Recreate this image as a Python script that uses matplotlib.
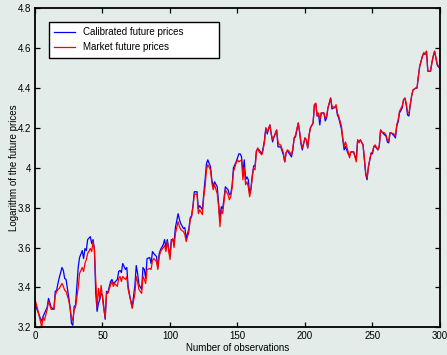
import matplotlib
matplotlib.use("Agg")
import matplotlib.pyplot as plt

plt.rcParams['font.family'] = ['Liberation Sans', 'DejaVu Sans']

obs = [0, 2, 4, 5, 6, 7, 9, 10, 12, 14, 15, 16, 17, 18, 20, 21, 22, 23, 25, 26,
       27, 28, 29, 30, 32, 33, 35, 36, 37, 38, 39, 41, 42, 43, 44, 45, 46, 47, 48, 49,
       50, 51, 52, 53, 54, 56, 57, 58, 59, 61, 62, 63, 64, 65, 67, 68, 69, 70, 72, 74,
       75, 76, 77, 79, 80, 81, 82, 83, 85, 86, 87, 88, 90, 91, 92, 93, 95, 96, 97, 98,
       100, 101, 102, 103, 104, 106, 107, 108, 110, 111, 112, 114, 115, 116, 117, 118, 120, 121, 122, 124,
       125, 126, 127, 128, 130, 131, 132, 133, 135, 136, 137, 138, 139, 140, 141, 143, 144, 145, 146, 147,
       149, 150, 151, 152, 153, 154, 155, 156, 157, 158, 159, 160, 161, 162, 163, 164, 165, 166, 168, 169,
       170, 171, 172, 174, 175, 176, 177, 179, 180, 181, 182, 184, 185, 186, 187, 188, 190, 191, 192, 193,
       195, 196, 197, 198, 200, 201, 202, 203, 204, 206, 207, 208, 209, 210, 211, 212, 214, 215, 216, 217,
       219, 220, 222, 223, 224, 225, 227, 228, 229, 230, 232, 233, 234, 236, 238, 239, 240, 241, 243, 244,
       245, 246, 247, 249, 250, 251, 252, 254, 255, 256, 257, 259, 260, 261, 262, 263, 264, 266, 267, 268,
       269, 270, 272, 273, 274, 275, 276, 277, 278, 279, 280, 282, 283, 284, 285, 287, 288, 289, 290, 291,
       293, 294, 295, 296, 298, 299, 300]

market = [3.34, 3.29, 3.23, 3.20, 3.25, 3.235, 3.29, 3.33, 3.29, 3.29, 3.36, 3.38, 3.39, 3.395, 3.42, 3.405, 3.385, 3.38, 3.335, 3.295,
          3.25, 3.235, 3.29, 3.30, 3.40, 3.47, 3.50, 3.48, 3.52, 3.54, 3.57, 3.595, 3.58, 3.63, 3.59, 3.435, 3.30, 3.395, 3.345, 3.41,
          3.345, 3.29, 3.25, 3.37, 3.37, 3.413, 3.43, 3.405, 3.42, 3.405, 3.445, 3.455, 3.43, 3.455, 3.44, 3.455, 3.39, 3.36, 3.295, 3.37,
          3.455, 3.43, 3.39, 3.37, 3.455, 3.44, 3.42, 3.49, 3.495, 3.49, 3.535, 3.545, 3.53, 3.49, 3.555, 3.58, 3.60, 3.61, 3.58, 3.63,
          3.54, 3.63, 3.645, 3.60, 3.67, 3.73, 3.705, 3.69, 3.68, 3.665, 3.63, 3.68, 3.74, 3.755, 3.80, 3.865, 3.87, 3.77, 3.79, 3.765,
          3.855, 3.905, 3.99, 4.015, 3.99, 3.925, 3.89, 3.915, 3.87, 3.805, 3.705, 3.79, 3.77, 3.83, 3.89, 3.865, 3.84, 3.855, 3.90, 3.98,
          4.024, 4.04, 4.03, 4.035, 4.04, 3.94, 4.00, 3.915, 3.93, 3.905, 3.855, 3.89, 3.957, 4.00, 3.99, 4.08, 4.10, 4.08, 4.065, 4.09,
          4.13, 4.20, 4.18, 4.215, 4.17, 4.14, 4.155, 4.19, 4.13, 4.115, 4.115, 4.075, 4.03, 4.075, 4.09, 4.085, 4.065, 4.10, 4.15, 4.165,
          4.225, 4.18, 4.13, 4.10, 4.15, 4.14, 4.10, 4.165, 4.20, 4.225, 4.317, 4.325, 4.26, 4.275, 4.24, 4.275, 4.275, 4.25, 4.258, 4.30,
          4.35, 4.31, 4.30, 4.317, 4.275, 4.258, 4.21, 4.15, 4.107, 4.13, 4.08, 4.05, 4.08, 4.08, 4.03, 4.14, 4.125, 4.14, 4.115, 4.05,
          3.975, 3.95, 4.006, 4.074, 4.08, 4.107, 4.115, 4.09, 4.107, 4.19, 4.18, 4.175, 4.165, 4.14, 4.133, 4.175, 4.175, 4.17, 4.158, 4.217,
          4.24, 4.284, 4.31, 4.34, 4.35, 4.325, 4.275, 4.275, 4.317, 4.36, 4.39, 4.40, 4.40, 4.46, 4.51, 4.56, 4.577, 4.568, 4.585, 4.485,
          4.485, 4.527, 4.56, 4.585, 4.52, 4.51, 4.505]

calibrated = [3.32, 3.28, 3.245, 3.23, 3.255, 3.27, 3.30, 3.345, 3.30, 3.29, 3.38, 3.385, 3.42, 3.45, 3.50, 3.485, 3.445, 3.44, 3.35, 3.30,
              3.22, 3.21, 3.305, 3.31, 3.50, 3.55, 3.585, 3.545, 3.595, 3.585, 3.64, 3.655, 3.62, 3.64, 3.59, 3.37, 3.28, 3.32, 3.34, 3.37,
              3.36, 3.30, 3.24, 3.38, 3.375, 3.43, 3.44, 3.42, 3.425, 3.44, 3.48, 3.485, 3.475, 3.52, 3.49, 3.50, 3.405, 3.365, 3.30, 3.41,
              3.51, 3.47, 3.415, 3.39, 3.50, 3.49, 3.445, 3.545, 3.55, 3.52, 3.58, 3.57, 3.555, 3.50, 3.57, 3.59, 3.615, 3.64, 3.60, 3.64,
              3.555, 3.64, 3.64, 3.625, 3.70, 3.77, 3.74, 3.72, 3.695, 3.70, 3.645, 3.695, 3.75, 3.76, 3.81, 3.88, 3.88, 3.795, 3.81, 3.79,
              3.87, 3.94, 4.02, 4.04, 4.005, 3.94, 3.905, 3.93, 3.905, 3.82, 3.74, 3.805, 3.795, 3.845, 3.905, 3.89, 3.865, 3.87, 3.91, 4.00,
              4.03, 4.05, 4.07, 4.07, 4.055, 3.975, 4.04, 3.94, 3.955, 3.94, 3.87, 3.90, 3.965, 4.01, 4.01, 4.085, 4.095, 4.09, 4.07, 4.10,
              4.14, 4.20, 4.17, 4.215, 4.17, 4.13, 4.155, 4.19, 4.105, 4.105, 4.105, 4.065, 4.03, 4.075, 4.085, 4.075, 4.055, 4.09, 4.15, 4.155,
              4.225, 4.18, 4.12, 4.09, 4.15, 4.14, 4.10, 4.16, 4.20, 4.225, 4.317, 4.32, 4.26, 4.27, 4.215, 4.275, 4.275, 4.235, 4.25, 4.30,
              4.35, 4.295, 4.305, 4.31, 4.265, 4.25, 4.195, 4.14, 4.09, 4.107, 4.07, 4.06, 4.08, 4.08, 4.04, 4.14, 4.13, 4.14, 4.115, 4.04,
              3.965, 3.94, 4.006, 4.074, 4.07, 4.107, 4.107, 4.09, 4.107, 4.19, 4.18, 4.165, 4.16, 4.13, 4.125, 4.175, 4.175, 4.16, 4.15, 4.21,
              4.23, 4.275, 4.30, 4.34, 4.35, 4.315, 4.265, 4.26, 4.317, 4.36, 4.39, 4.40, 4.40, 4.46, 4.51, 4.56, 4.577, 4.568, 4.585, 4.485,
              4.485, 4.527, 4.56, 4.585, 4.515, 4.505, 4.50]

bg = '#e4ece9'

fig = plt.figure(figsize=(4.47, 3.55), dpi=100, facecolor=bg)
ax = fig.add_axes([0.0783, 0.078, 0.906, 0.8985], facecolor=bg)

ax.plot(obs, calibrated, color='#0000ff', lw=0.9, label='Calibrated future prices')
ax.plot(obs, market, color='#ff0000', lw=0.9, label='Market future prices')

ax.set_xlim(0, 300)
ax.set_ylim(3.2, 4.8)
ax.set_xticks([0, 50, 100, 150, 200, 250, 300])
ax.set_yticks([3.2, 3.4, 3.6, 3.8, 4.0, 4.2, 4.4, 4.6, 4.8])
ax.set_yticklabels(['3.2', '3.4', '3.6', '3.8', '4', '4.2', '4.4', '4.6', '4.8'])
ax.tick_params(direction='in', top=True, right=True, length=3.5, width=0.9,
               labelsize=7, colors='black', pad=3)
for s in ax.spines.values():
    s.set_linewidth(1.3)

ax.set_xlabel('Number of observations', fontsize=7, labelpad=1)
ax.set_ylabel('Logarithm of the future prices', fontsize=7, labelpad=-1)

leg = ax.legend(loc='upper left', bbox_to_anchor=(0.0346, 0.851, 0.42, 0.107),
                mode='expand', fontsize=7, fancybox=False, frameon=True,
                handlelength=2.1, handletextpad=0.8, borderpad=0.55,
                labelspacing=0.55, borderaxespad=0)
leg.get_frame().set_edgecolor('black')
leg.get_frame().set_linewidth(1.0)
leg.get_frame().set_facecolor('white')
leg.get_frame().set_alpha(1)

fig.savefig('out.png', dpi=100, facecolor=bg)
